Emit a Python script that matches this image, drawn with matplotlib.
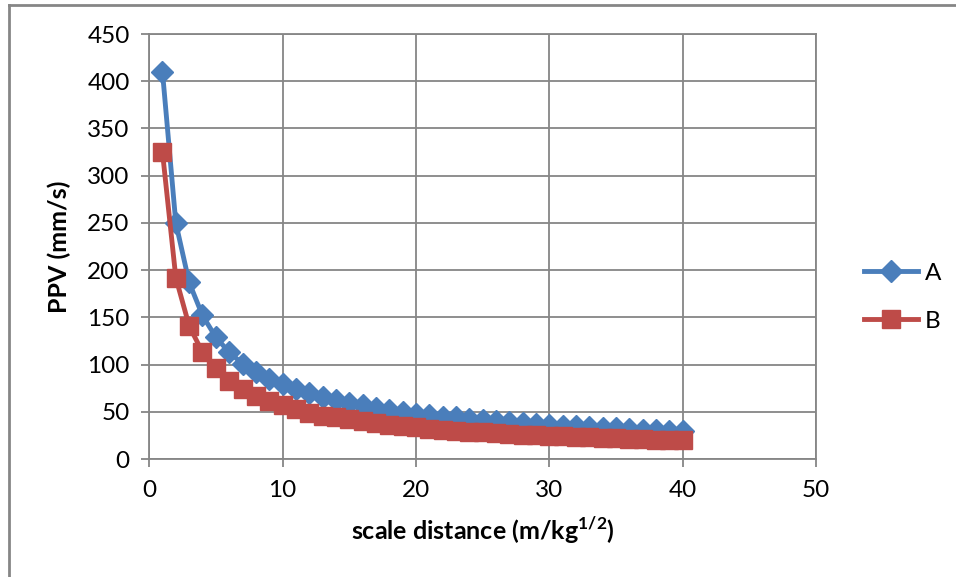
import matplotlib.pyplot as plt
from matplotlib.lines import Line2D

plt.rcParams['font.family'] = ['Lato', 'DejaVu Sans']
plt.rcParams['mathtext.fontset'] = 'custom'
plt.rcParams['mathtext.rm'] = 'Lato'
plt.rcParams['mathtext.bf'] = 'Lato:bold'

distance = list(range(1, 41))
ppv_a = [410, 250, 187, 152, 129, 113, 101, 92, 85, 79,
         74, 70, 66, 62, 59, 57, 54, 52, 50, 48,
         47, 45, 44, 42, 41, 40, 39, 38, 37, 36,
         35.3, 34.5, 33.8, 33, 32.4, 31.7, 31.1, 30.5, 30, 29.4]
ppv_b = [325, 192, 141, 113, 96, 83, 74, 67, 61, 57,
         53, 49, 46, 44, 42, 40, 38, 36, 35, 33.4,
         32.2, 31.1, 30.1, 29.1, 28.2, 27.4, 26.6, 25.9, 25.2, 24.6,
         24, 23.4, 22.9, 22.4, 21.9, 21.4, 21, 20.5, 20.1, 19.8]

blue = '#4A7EBB'
red = '#BE4B48'
grid = '#868686'

fig = plt.figure(figsize=(9.56, 5.77), dpi=100)
ax = fig.add_axes([0.156, 0.2045, 0.6976, 0.7365])

ax.plot(distance, ppv_a, color=blue, lw=3.5, marker='D', ms=11,
        mec=blue, mfc=blue, label='A', zorder=3)
ax.plot(distance, ppv_b, color=red, lw=3.5, marker='s', ms=13,
        mec=red, mfc=red, label='B', zorder=3)

ax.set_xlim(0, 50)
ax.set_ylim(0, 450)
ax.set_xticks(range(0, 51, 10))
ax.set_yticks(range(0, 451, 50))
ax.grid(True, color=grid, lw=1.3)
ax.set_axisbelow(True)
for s in ax.spines.values():
    s.set_color(grid)
    s.set_linewidth(1.3)
ax.tick_params(colors='black', labelsize=17.5, length=6, width=1.3,
               color=grid)
ax.tick_params(axis='y', pad=8)
ax.tick_params(axis='x', pad=9)

ax.set_xlabel('scale distance (m/kg$^{\\mathbf{1/2}}$)', fontsize=18,
              fontweight='bold', labelpad=10)
ax.set_ylabel('PPV (mm/s)', fontsize=18, fontweight='bold', labelpad=12)

handles = [Line2D([], [], color=blue, lw=3.5, marker='D', ms=11),
           Line2D([], [], color=red, lw=3.5, marker='s', ms=13)]
fig.legend(handles, ['A', 'B'], loc='center left',
           bbox_to_anchor=(0.904, 0.485), frameon=False, fontsize=17.5,
           handlelength=2.2, handletextpad=0.3, labelspacing=1.1,
           borderpad=0, borderaxespad=0)

# outer chart border (left and top only visible)
fig.add_artist(Line2D([0.0099, 0.0099], [0, 0.991], color=grid, lw=2,
                      transform=fig.transFigure))
fig.add_artist(Line2D([0.0099, 1.0], [0.991, 0.991], color=grid, lw=2,
                      transform=fig.transFigure))

fig.savefig('out.png', dpi=100)
